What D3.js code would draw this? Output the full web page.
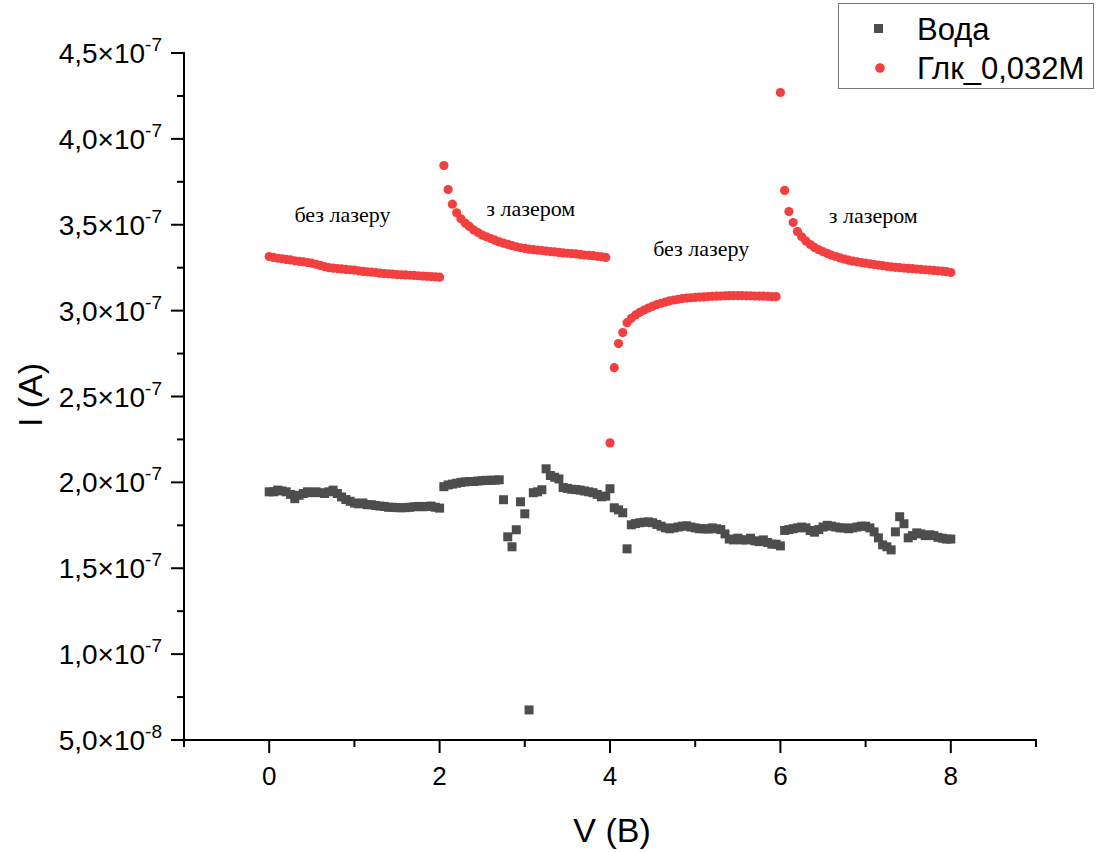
<!DOCTYPE html>
<html>
<head>
<meta charset="utf-8">
<script src="https://cdn.jsdelivr.net/npm/d3@7/dist/d3.min.js"></script>
<style>
  html, body { margin: 0; padding: 0; background: #fff; }
  svg { display: block; }
</style>
</head>
<body>
<svg id="chart" width="1097" height="852"></svg>
<script>
// Voltage sweep 0..8 V, step 0.05 V
const voltages = d3.range(0, 161).map(i => +(i * 0.05).toFixed(2));

// Current, water (units of 1e-7 A)
const waterCurrent = [
  1.945, 1.945, 1.955, 1.950, 1.945, 1.930, 1.905, 1.925, 1.935, 1.945,
  1.940, 1.945, 1.940, 1.935, 1.945, 1.955, 1.935, 1.915, 1.900, 1.890,
  1.880, 1.875, 1.880, 1.870, 1.870, 1.865, 1.862, 1.860, 1.855, 1.855,
  1.853, 1.852, 1.853, 1.855, 1.858, 1.860, 1.858, 1.860, 1.862, 1.855,
  1.850,
  1.975, 1.985, 1.990, 1.995, 2.000, 2.003, 2.005, 2.005, 2.008, 2.010,
  2.012, 2.012, 2.013, 2.015, 1.899, 1.683, 1.625, 1.724, 1.887, 1.817,
  0.675, 1.940, 1.945, 1.957, 2.079, 2.040, 2.030, 2.020, 1.970, 1.965,
  1.960, 1.958, 1.955, 1.950, 1.945, 1.940, 1.930, 1.916, 1.920,
  1.963, 1.852, 1.840, 1.823, 1.613, 1.753, 1.760, 1.765, 1.768, 1.770,
  1.765, 1.755, 1.745, 1.735, 1.730, 1.735, 1.740, 1.745, 1.747, 1.740,
  1.735, 1.730, 1.730, 1.728, 1.735, 1.730, 1.725, 1.700, 1.670, 1.665,
  1.675, 1.665, 1.665, 1.675, 1.660, 1.655, 1.665, 1.650, 1.640, 1.640,
  1.630, 1.720, 1.725, 1.730, 1.735, 1.740, 1.735, 1.720, 1.710, 1.725,
  1.740, 1.750, 1.745, 1.740, 1.735, 1.735, 1.730, 1.735, 1.740, 1.745,
  1.745, 1.735, 1.712, 1.677, 1.636, 1.625, 1.607, 1.712, 1.800, 1.759,
  1.677, 1.690, 1.706, 1.700, 1.690, 1.695, 1.690, 1.680, 1.675, 1.670,
  1.670
];

// Current, glucose 0.032 M (units of 1e-7 A)
const glucoseCurrent = [
  3.315, 3.310, 3.305, 3.302, 3.298, 3.295, 3.290, 3.287, 3.284, 3.280,
  3.276, 3.270, 3.263, 3.256, 3.250, 3.247, 3.245, 3.243, 3.240, 3.238,
  3.236, 3.232, 3.228, 3.226, 3.224, 3.222, 3.218, 3.216, 3.214, 3.212,
  3.210, 3.209, 3.208, 3.206, 3.205, 3.203, 3.201, 3.200, 3.198, 3.197,
  3.195,
  3.845, 3.705, 3.620, 3.570, 3.535, 3.510, 3.490, 3.470, 3.455, 3.440,
  3.430, 3.420, 3.410, 3.400, 3.393, 3.386, 3.378, 3.372, 3.366, 3.362,
  3.358, 3.355, 3.352, 3.350, 3.347, 3.344, 3.342, 3.339, 3.336, 3.334,
  3.332, 3.330, 3.327, 3.324, 3.322, 3.320, 3.316, 3.313, 3.310,
  2.230, 2.668, 2.808, 2.872, 2.930, 2.955, 2.975, 2.990, 3.003, 3.015,
  3.025, 3.035, 3.043, 3.050, 3.057, 3.062, 3.066, 3.070, 3.073, 3.075,
  3.077, 3.079, 3.080, 3.082, 3.083, 3.084, 3.085, 3.086, 3.087, 3.087,
  3.087, 3.087, 3.086, 3.086, 3.085, 3.085, 3.084, 3.083, 3.082, 3.081,
  4.270, 3.700, 3.577, 3.513, 3.460, 3.430, 3.405, 3.385, 3.368, 3.355,
  3.343, 3.333, 3.323, 3.315, 3.307, 3.300, 3.294, 3.288, 3.284, 3.280,
  3.276, 3.272, 3.268, 3.265, 3.262, 3.258, 3.255, 3.252, 3.250, 3.248,
  3.246, 3.244, 3.242, 3.240, 3.238, 3.236, 3.234, 3.232, 3.230, 3.227,
  3.222
];

const seriesNames = ["Вода", "Глк_0,032М"];
const xTicks = [0, 2, 4, 6, 8];
const xMinorTicks = [-1, 1, 3, 5, 7, 9];
const yTicks = [0.5e-7, 1.0e-7, 1.5e-7, 2.0e-7, 2.5e-7, 3.0e-7, 3.5e-7, 4.0e-7, 4.5e-7];
const yMinorTicks = [0.75e-7, 1.25e-7, 1.75e-7, 2.25e-7, 2.75e-7, 3.25e-7, 3.75e-7, 4.25e-7];

// Region notes: [voltage, current (1e-7 A), text]
const notes = [
  [0.86, 3.515, "без лазеру"],
  [3.07, 3.55, "з лазером"],
  [5.07, 3.32, "без лазеру"],
  [7.09, 3.51, "з лазером"]
];

const grey = "#4d4d4d";
const red = "#f23f3f";

const svg = d3.select("#chart");
const x = d3.scaleLinear().domain([-1, 9]).range([184, 1036]);
const y = d3.scaleLinear().domain([0.5e-7, 4.5e-7]).range([740, 53]);

const waterPts = voltages.map((v, i) => ({ v, c: waterCurrent[i] * 1e-7 }));
const glucosePts = voltages.map((v, i) => ({ v, c: glucoseCurrent[i] * 1e-7 }));

// Axes
const axisFont = "'Liberation Sans', Arial, sans-serif";

const xAxis = svg.append("g").attr("transform", "translate(0,740)");
xAxis.append("line").attr("x1", 183).attr("x2", 1037).attr("y1", 0).attr("y2", 0)
  .attr("stroke", "#000").attr("stroke-width", 2);
xAxis.selectAll(".maj").data(xTicks).join("line")
  .attr("x1", d => x(d)).attr("x2", d => x(d)).attr("y1", 0).attr("y2", 13)
  .attr("stroke", "#000").attr("stroke-width", 2);
xAxis.selectAll(".min").data(xMinorTicks).join("line")
  .attr("x1", d => x(d)).attr("x2", d => x(d)).attr("y1", 0).attr("y2", 7)
  .attr("stroke", "#000").attr("stroke-width", 2);
xAxis.selectAll(".lab").data(xTicks).join("text")
  .attr("x", d => x(d)).attr("y", 45)
  .attr("text-anchor", "middle")
  .style("font-family", axisFont).style("font-size", "26px")
  .text(d => d);

const yAxis = svg.append("g");
yAxis.append("line").attr("x1", 184).attr("x2", 184).attr("y1", y(4.5e-7) - 1).attr("y2", 747)
  .attr("stroke", "#000").attr("stroke-width", 2);
yAxis.selectAll(".maj").data(yTicks).join("line")
  .attr("x1", 171).attr("x2", 184).attr("y1", d => y(d)).attr("y2", d => y(d))
  .attr("stroke", "#000").attr("stroke-width", 2);
yAxis.selectAll(".min").data(yMinorTicks).join("line")
  .attr("x1", 177).attr("x2", 184).attr("y1", d => y(d)).attr("y2", d => y(d))
  .attr("stroke", "#000").attr("stroke-width", 2);

function sciParts(v) {
  const e = Math.floor(Math.log10(v) + 1e-9);
  const m = v / Math.pow(10, e);
  return [m.toFixed(1).replace(".", ","), String(e)];
}
const yLab = yAxis.selectAll(".lab").data(yTicks).join("text")
  .attr("x", 162).attr("y", d => y(d) + 10)
  .attr("text-anchor", "end")
  .style("font-family", axisFont).style("font-size", "28px");
yLab.append("tspan").text(d => sciParts(d)[0] + "×10");
yLab.append("tspan").attr("dy", -12).style("font-size", "19px").text(d => sciParts(d)[1]);

// Axis titles
svg.append("text").attr("x", 612).attr("y", 842).attr("text-anchor", "middle")
  .style("font-family", axisFont).style("font-size", "34px").text("V (B)");
svg.append("text").attr("transform", "translate(42,395) rotate(-90)").attr("text-anchor", "middle")
  .style("font-family", axisFont).style("font-size", "34px").text("I (A)");

// Data
svg.append("g").selectAll("rect").data(waterPts).join("rect")
  .attr("x", d => x(d.v) - 4.5).attr("y", d => y(d.c) - 4.5)
  .attr("width", 9).attr("height", 9).attr("fill", grey);

svg.append("g").selectAll("circle").data(glucosePts).join("circle")
  .attr("cx", d => x(d.v)).attr("cy", d => y(d.c)).attr("r", 4.6)
  .attr("fill", red);

// Region notes
svg.append("g").selectAll("text").data(notes).join("text")
  .attr("x", d => x(d[0])).attr("y", d => y(d[1] * 1e-7))
  .attr("text-anchor", "middle")
  .style("font-family", "'Liberation Serif', 'Times New Roman', serif")
  .style("font-size", "22px")
  .text(d => d[2]);

// Legend
const legend = svg.append("g");
legend.append("rect").attr("x", 838.5).attr("y", 3.5).attr("width", 255).attr("height", 85)
  .attr("fill", "#fff").attr("stroke", "#777").attr("stroke-width", 1);
legend.append("rect").attr("x", 874).attr("y", 24).attr("width", 9).attr("height", 9).attr("fill", grey);
legend.append("circle").attr("cx", 880).attr("cy", 68).attr("r", 4.8).attr("fill", red);
legend.selectAll(".lt").data(seriesNames).join("text")
  .attr("x", 917).attr("y", (d, i) => 40 + i * 39)
  .style("font-family", axisFont).style("font-size", "31px")
  .text(d => d);
</script>
</body>
</html>
